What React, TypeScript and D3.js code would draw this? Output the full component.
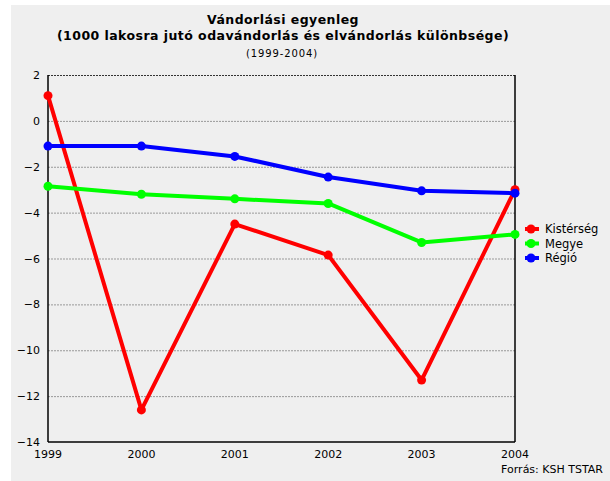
import React, { useEffect, useRef } from "react";
import * as d3 from "d3";

// évek és sorozatok
const years = [1999, 2000, 2001, 2002, 2003, 2004];
const kisterseg = [1.1, -12.6, -4.5, -5.85, -11.3, -3.0];
const megye = [-2.85, -3.2, -3.4, -3.6, -5.3, -4.95];
const regio = [-1.1, -1.1, -1.55, -2.45, -3.05, -3.15];
const yTicks = [2, 0, -2, -4, -6, -8, -10, -12, -14];

const series = [
  { name: "Kistérség", values: kisterseg, color: "#ff0000" },
  { name: "Megye", values: megye, color: "#00ff00" },
  { name: "Régió", values: regio, color: "#0000ff" },
];

const W = 610;
const H = 481;
const font = "'DejaVu Sans', Verdana, sans-serif";

const App = () => {
  const svgRef = useRef<SVGSVGElement>(null);

  useEffect(() => {
    document.body.style.margin = "0";
    const svg = d3.select(svgRef.current);
    svg.selectAll("*").remove();

    // háttér
    svg.append("rect").attr("width", W).attr("height", H).attr("fill", "#fff");
    svg
      .append("rect")
      .attr("x", 11)
      .attr("y", 5)
      .attr("width", W - 11)
      .attr("height", H - 5)
      .attr("fill", "#efefef");

    const x = d3.scaleLinear().domain([1999, 2004]).range([48, 515]);
    const y = d3.scaleLinear().domain([-14, 2]).range([442, 75]);

    // rácsvonalak
    yTicks.forEach((t) => {
      if (t === -14) return;
      svg
        .append("line")
        .attr("x1", x(1999))
        .attr("x2", x(2004))
        .attr("y1", y(t) + 0.5)
        .attr("y2", y(t) + 0.5)
        .attr("stroke", t === 2 ? "#333" : "#999")
        .attr("stroke-width", 1)
        .attr("stroke-dasharray", "2,1");
    });

    // tengelyek
    svg
      .append("line")
      .attr("x1", x(1999))
      .attr("x2", x(1999))
      .attr("y1", y(2))
      .attr("y2", y(-14))
      .attr("stroke", "#000")
      .attr("stroke-width", 1.5);
    svg
      .append("line")
      .attr("x1", x(2004))
      .attr("x2", x(2004))
      .attr("y1", y(2))
      .attr("y2", y(-14))
      .attr("stroke", "#000")
      .attr("stroke-width", 1.5);
    svg
      .append("line")
      .attr("x1", x(1999))
      .attr("x2", x(2004))
      .attr("y1", y(-14))
      .attr("y2", y(-14))
      .attr("stroke", "#000")
      .attr("stroke-width", 1.5);

    // tengelyfeliratok
    yTicks.forEach((t) => {
      svg
        .append("text")
        .attr("x", 40)
        .attr("y", y(t) + 4)
        .attr("text-anchor", "end")
        .attr("font-family", font)
        .attr("font-size", 11)
        .attr("fill", "#000")
        .text(t < 0 ? "\u2212" + Math.abs(t) : String(t));
    });
    years.forEach((yr) => {
      svg
        .append("text")
        .attr("x", x(yr))
        .attr("y", 458)
        .attr("text-anchor", "middle")
        .attr("font-family", font)
        .attr("font-size", 11)
        .attr("fill", "#000")
        .text(yr);
    });

    // vonalak
    const line = d3
      .line<number>()
      .x((d, i) => x(years[i]))
      .y((d) => y(d));

    series.forEach((s) => {
      svg
        .append("path")
        .attr("d", line(s.values))
        .attr("fill", "none")
        .attr("stroke", s.color)
        .attr("stroke-width", 4)
        .attr("stroke-linejoin", "round");
      s.values.forEach((v, i) => {
        svg
          .append("circle")
          .attr("cx", x(years[i]))
          .attr("cy", y(v))
          .attr("r", 4.5)
          .attr("fill", s.color);
      });
    });

    // jelmagyarázat
    series.forEach((s, i) => {
      const ly = 229 + i * 14.5;
      svg
        .append("line")
        .attr("x1", 525)
        .attr("x2", 539)
        .attr("y1", ly)
        .attr("y2", ly)
        .attr("stroke", s.color)
        .attr("stroke-width", 4);
      svg.append("circle").attr("cx", 531).attr("cy", ly).attr("r", 4.5).attr("fill", s.color);
      svg
        .append("text")
        .attr("x", 545)
        .attr("y", ly + 4)
        .attr("font-family", font)
        .attr("font-size", 11.5)
        .attr("fill", "#000")
        .text(s.name);
    });

    // cím
    svg
      .append("text")
      .attr("x", 283)
      .attr("y", 24)
      .attr("text-anchor", "middle")
      .attr("font-family", font)
      .attr("font-size", 12.5)
      .attr("letter-spacing", 0.45)
      .attr("font-weight", "bold")
      .text("Vándorlási egyenleg");
    svg
      .append("text")
      .attr("x", 283)
      .attr("y", 40)
      .attr("text-anchor", "middle")
      .attr("font-family", font)
      .attr("font-size", 12.5)
      .attr("letter-spacing", 0.45)
      .attr("font-weight", "bold")
      .text("(1000 lakosra jutó odavándorlás és elvándorlás különbsége)");
    svg
      .append("text")
      .attr("x", 282)
      .attr("y", 57)
      .attr("text-anchor", "middle")
      .attr("font-family", font)
      .attr("font-size", 10)
      .attr("letter-spacing", 0.9)
      .text("(1999-2004)");

    svg
      .append("text")
      .attr("x", 603)
      .attr("y", 473)
      .attr("text-anchor", "end")
      .attr("font-family", font)
      .attr("font-size", 11)
      .text("Forrás: KSH TSTAR");
  }, []);

  return <svg ref={svgRef} width={W} height={H} style={{ display: "block" }}></svg>;
};

export default App;
